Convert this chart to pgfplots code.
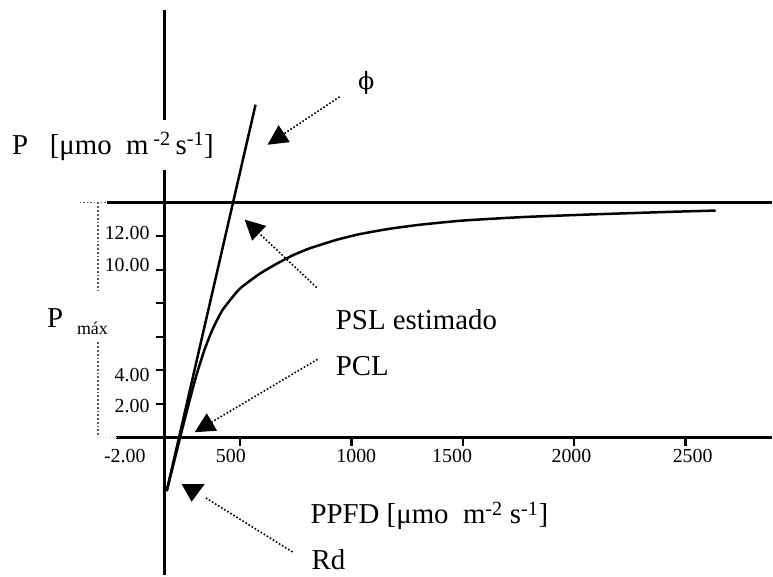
\documentclass[border=0pt]{standalone}
\usepackage{fontspec}
\setmainfont{Liberation Serif}
\newfontfamily\phifont{DejaVu Serif}
\usepackage{pgfplots}
\pgfplotsset{compat=1.18}
\usetikzlibrary{arrows.meta}
\begin{document}
\begin{tikzpicture}
\begin{axis}[
  scale only axis, width=773bp, height=576bp,
  xmin=-577, xmax=2886, ymin=-8.22, ymax=26.10,
  axis lines=none, clip=false,
]
\path (rel axis cs:0,0) rectangle (rel axis cs:1,1);
% axes
\draw[line width=2.9bp] (axis cs:162,25.5) -- (axis cs:162,18.95);
\draw[line width=2.9bp] (axis cs:162,15.97) -- (axis cs:162,-8.22);
\draw[line width=2.9bp] (axis cs:-57,0) -- (axis cs:2886,0);
\draw[line width=2.9bp] (axis cs:-98,14) -- (axis cs:2886,14);
% y ticks
\pgfplotsinvokeforeach{2,4,6,8,10,12}{
  \draw[line width=2.4bp] (axis cs:122,#1) -- (axis cs:162,#1);
}
% x ticks
\pgfplotsinvokeforeach{500,1000,1500,2000,2500}{
  \draw[line width=2.4bp] (axis cs:#1,0) -- (axis cs:#1,-0.55);
}
% tick labels
\begin{scope}[every node/.style={font=\fontsize{20}{24}\selectfont, inner sep=0pt}]
\node[anchor=base] at (axis cs:-17,-1.49) {-2.00};
\node[anchor=base] at (axis cs:459,-1.49) {500};
\node[anchor=base] at (axis cs:1022,-1.49) {1000};
\node[anchor=base] at (axis cs:1452,-1.49) {1500};
\node[anchor=base] at (axis cs:1988,-1.49) {2000};
\node[anchor=base] at (axis cs:2532,-1.49) {2500};
\node[anchor=base east] at (axis cs:95,11.80) {12.00};
\node[anchor=base east] at (axis cs:95,9.89) {10.00};
\node[anchor=base east] at (axis cs:95,3.34) {4.00};
\node[anchor=base east] at (axis cs:95,1.49) {2.00};
\end{scope}
% dimension dotted lines for Pmax
\draw[gray!70!black, dotted, line width=1.8bp] (axis cs:-138,14) -- (axis cs:-138,8.7);
\draw[gray!70!black, dotted, line width=1.8bp] (axis cs:-138,5.66) -- (axis cs:-138,0.06);
\draw[gray!70!black, dotted, line width=1.5bp] (axis cs:-219,14) -- (axis cs:-98,14);
\draw[gray!40, dotted, line width=1.2bp] (axis cs:-143,0) -- (axis cs:-57,0);
% data: initial slope line (phi) and light response curve
\addplot[black, line width=2.5bp] coordinates {(171,-3.22) (570,19.85)};
\addplot[black, line width=2.5bp, smooth, tension=0.3] coordinates {
(171.1,-3.22) (229.4,-0.12) (274.2,2.21) (305.6,3.75) (341.4,5.24)
(377.3,6.45) (422.0,7.60) (498.2,8.85) (587.8,9.75) (664.0,10.35)
(735.7,10.85) (811.8,11.27) (932.8,11.78) (1035.8,12.12) (1170.2,12.44)
(1304.7,12.68) (1497.3,12.93) (1766.1,13.14) (2079.7,13.30) (2447.1,13.46)
(2635.3,13.53)};
% annotation arrows
\begin{scope}[dotted, line width=1.6bp, -{Triangle[length=20bp,width=20bp]}]
\draw (axis cs:947,20.32) -- (axis cs:624,17.46);
\draw (axis cs:844,8.94) -- (axis cs:521,12.99);
\draw (axis cs:848,4.65) -- (axis cs:297,0.30);
\end{scope}
\draw[dotted, line width=1.6bp] (axis cs:735.7,-6.85) -- (axis cs:341.4,-3.58);
\fill[black] (axis cs:238.4,-2.80) -- (axis cs:341.4,-2.80) -- (axis cs:283.1,-3.85) -- cycle;
% labels
\begin{scope}[every node/.style={font=\fontsize{29}{34}\selectfont, inner sep=0pt}]
\node[anchor=base west, fill=white] at (axis cs:-523,16.87) {P\hspace{0.75em}[μmo\hspace{0.5em}m\,\textsuperscript{-2}\,s\textsuperscript{-1}]};
\node[anchor=base west] at (axis cs:-366,6.56) {P};
\node[anchor=base west, font=\fontsize{18}{20}\selectfont] at (axis cs:-232,6.14) {máx};
\node[anchor=base west] at (axis cs:930,6.43) {PSL estimado};
\node[anchor=base west] at (axis cs:930,3.70) {PCL};
\node[anchor=base west] at (axis cs:816,-5.18) {PPFD [μmo\hspace{0.5em}m\textsuperscript{-2} s\textsuperscript{-1}]};
\node[anchor=base west] at (axis cs:821,-7.87) {Rd};
\node[font=\fontsize{24}{28}\phifont] at (axis cs:1067,21.16) {ϕ};
\end{scope}
\end{axis}
\end{tikzpicture}
\end{document}
